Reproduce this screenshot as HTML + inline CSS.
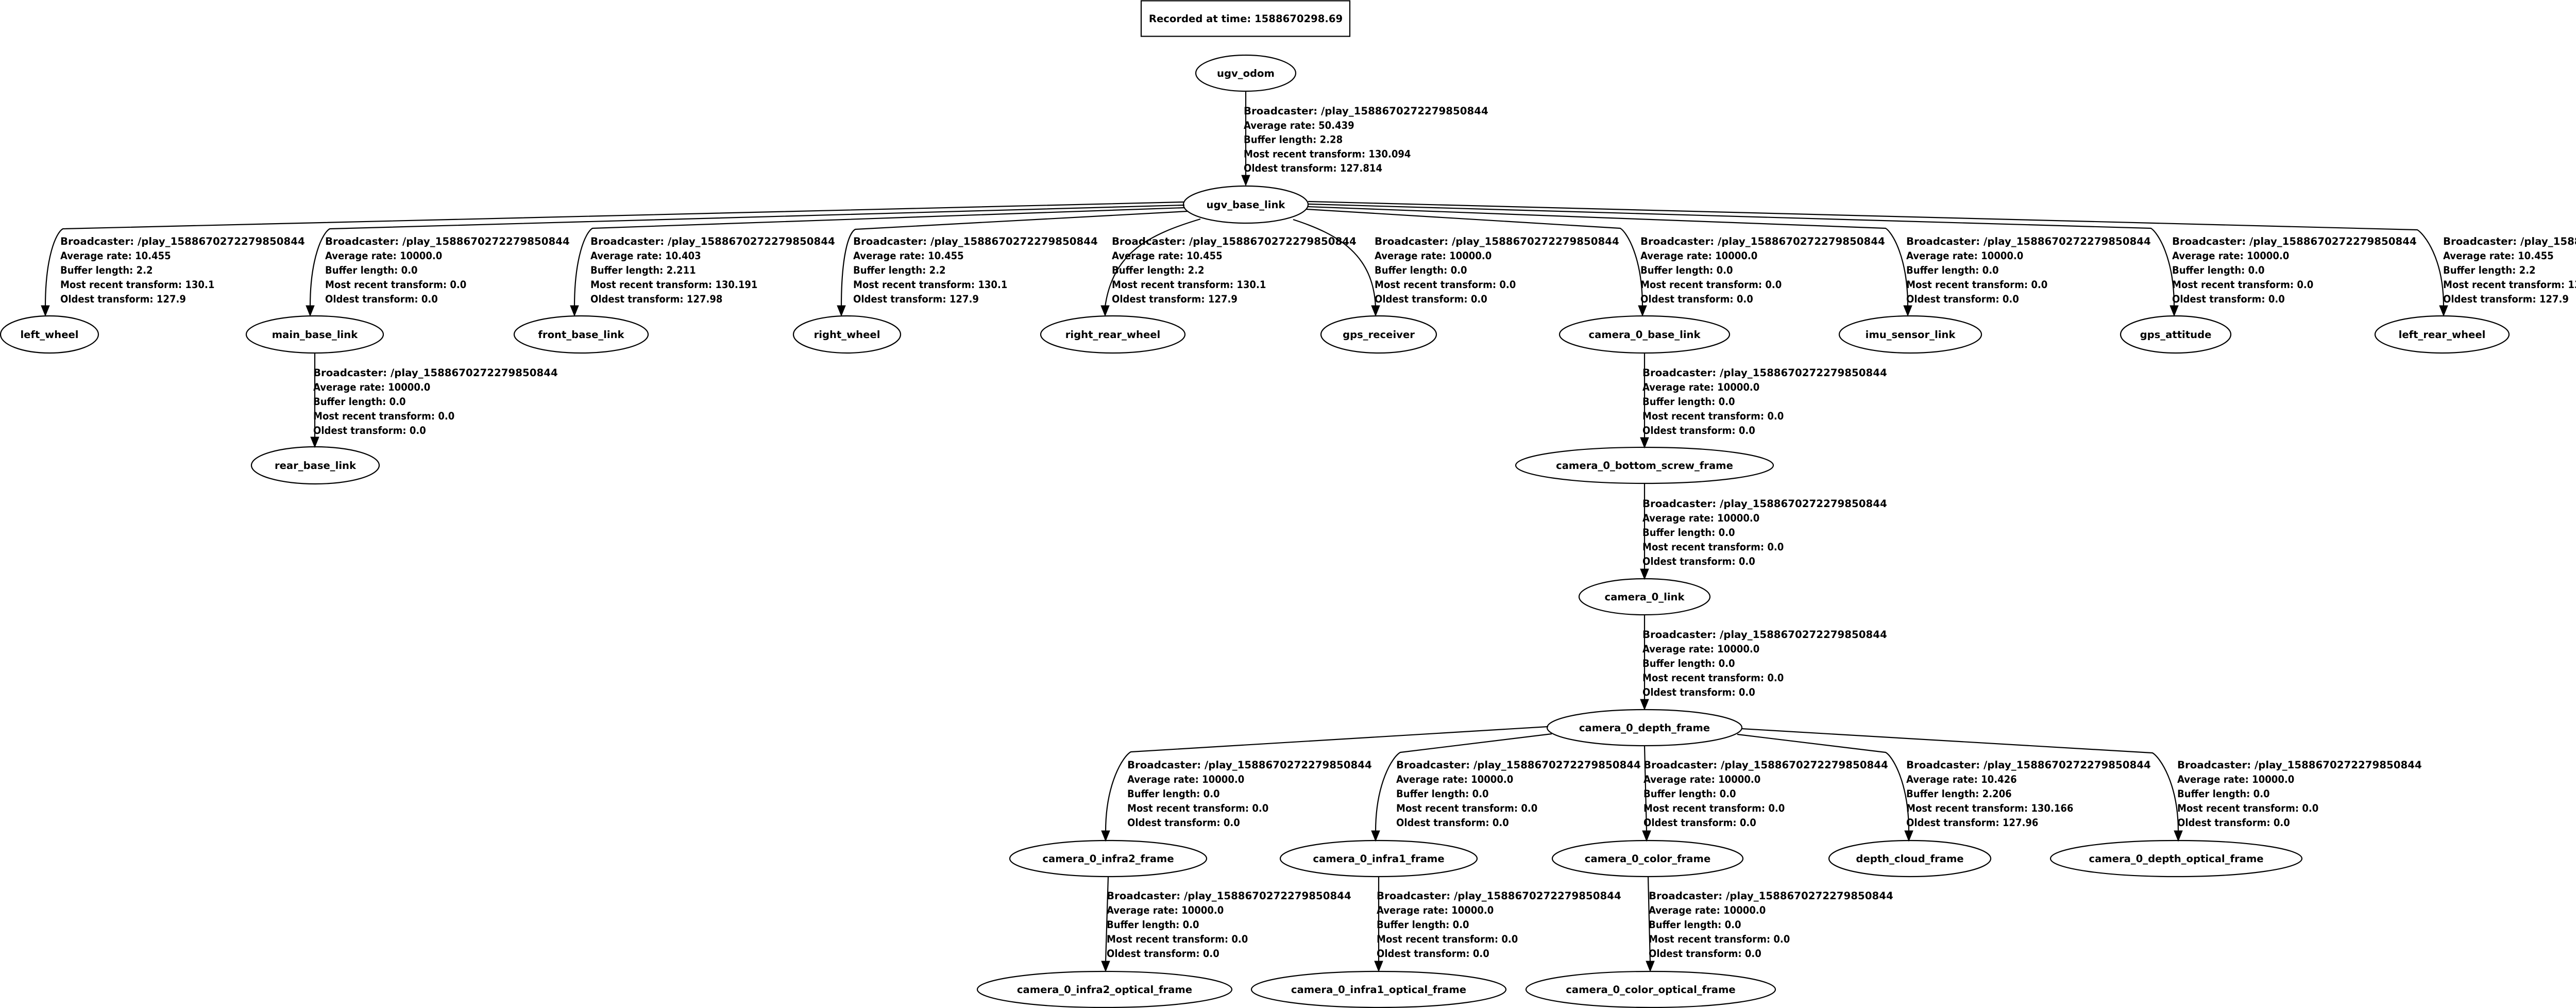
<!DOCTYPE html>
<html><head><meta charset="utf-8"><style>
html,body{margin:0;padding:0;background:#fff;}
svg{display:block;}
text{font-family:"DejaVu Sans","Liberation Sans",sans-serif;font-weight:bold;font-size:19.6px;fill:#000;}
.n{text-anchor:middle;}
</style></head><body>
<svg width="5220" height="1956" viewBox="0 0 5220 1956" xmlns="http://www.w3.org/2000/svg">
<defs>
</defs>
<rect x="0" y="0" width="5220" height="1956" fill="#fff"/>
<g fill="none" stroke="#000" stroke-width="2.2">
<rect x="2215" y="1.5" width="405" height="69"/>
<ellipse cx="2418" cy="142" rx="97" ry="35"/>
<ellipse cx="2418" cy="397" rx="121" ry="36"/>
<ellipse cx="96" cy="649" rx="95" ry="36"/>
<ellipse cx="611" cy="649" rx="133" ry="36"/>
<ellipse cx="1128" cy="649" rx="130" ry="36"/>
<ellipse cx="1644" cy="649" rx="104" ry="36"/>
<ellipse cx="2160" cy="649" rx="140" ry="36"/>
<ellipse cx="2676" cy="649" rx="112" ry="36"/>
<ellipse cx="3192" cy="649" rx="165" ry="36"/>
<ellipse cx="3708" cy="649" rx="138" ry="36"/>
<ellipse cx="4223" cy="649" rx="107" ry="36"/>
<ellipse cx="4740" cy="649" rx="130" ry="36"/>
<ellipse cx="612" cy="903" rx="124" ry="36"/>
<ellipse cx="3192" cy="903" rx="250" ry="35"/>
<ellipse cx="3192" cy="1158" rx="127" ry="35"/>
<ellipse cx="3192" cy="1412" rx="189" ry="35"/>
<ellipse cx="2151" cy="1666" rx="191" ry="35"/>
<ellipse cx="2676" cy="1666" rx="191" ry="35"/>
<ellipse cx="3198" cy="1666" rx="185" ry="35"/>
<ellipse cx="3707" cy="1666" rx="157" ry="35"/>
<ellipse cx="4224" cy="1666" rx="244" ry="35"/>
<ellipse cx="2144" cy="1920" rx="247" ry="35"/>
<ellipse cx="2676" cy="1920" rx="247" ry="35"/>
<ellipse cx="3204" cy="1920" rx="242" ry="35"/>
<path d="M2418 177 L2418 342"/>
<path d="M611 685 L611 850"/>
<path d="M3192 685 L3192 851"/>
<path d="M3192 938 L3192 1106"/>
<path d="M3192 1193 L3192 1359"/>
<path d="M3192 1447 L3196 1614"/>
<path d="M2151 1701 L2146 1867"/>
<path d="M2676 1701 L2676 1867"/>
<path d="M3199 1701 L3203 1867"/>
<path d="M2298 392 L122 444 C108 452 88 500 88 595"/>
<path d="M2299 398 L640 444 C626 452 602 500 602 595"/>
<path d="M2300 403 L1150 443 C1136 451 1115 500 1115 595"/>
<path d="M2305 410 L1660 445 C1646 453 1633 500 1633 595"/>
<path d="M2330 425 C2230 455 2160 490 2145 595"/>
<path d="M2510 426 C2600 455 2665 495 2670 595"/>
<path d="M2536 406 L3145 443 C3158 451 3188 500 3188 595"/>
<path d="M2538 401 L3660 443 C3673 451 3703 500 3703 595"/>
<path d="M2539 396 L4175 443 C4188 451 4220 500 4220 595"/>
<path d="M2539 391 L4692 446 C4705 454 4743 500 4743 595"/>
<path d="M3005 1410 L2195 1459 C2180 1467 2146 1520 2146 1614"/>
<path d="M3012 1424 L2718 1460 C2703 1468 2670 1520 2670 1614"/>
<path d="M3372 1425 L3660 1460 C3674 1468 3705 1520 3705 1614"/>
<path d="M3380 1414 L4178 1461 C4192 1469 4228 1520 4228 1614"/>
</g>
<g fill="#000" stroke="#000" stroke-width="1">
<polygon points="2410,340 2426,340 2418,360"/>
<polygon points="603,848 619,848 611,868"/>
<polygon points="3184,849 3200,849 3192,869"/>
<polygon points="3184,1104 3200,1104 3192,1124"/>
<polygon points="3184,1357 3200,1357 3192,1377"/>
<polygon points="3188,1612 3204,1612 3196,1632"/>
<polygon points="2138,1865 2154,1865 2146,1885"/>
<polygon points="2668,1865 2684,1865 2676,1885"/>
<polygon points="3195,1865 3211,1865 3203,1885"/>
<polygon points="80,593 96,593 88,613"/>
<polygon points="594,593 610,593 602,613"/>
<polygon points="1107,593 1123,593 1115,613"/>
<polygon points="1625,593 1641,593 1633,613"/>
<polygon points="2137,593 2153,593 2145,613"/>
<polygon points="2662,593 2678,593 2670,613"/>
<polygon points="3180,593 3196,593 3188,613"/>
<polygon points="3695,593 3711,593 3703,613"/>
<polygon points="4212,593 4228,593 4220,613"/>
<polygon points="4735,593 4751,593 4743,613"/>
<polygon points="2138,1612 2154,1612 2146,1632"/>
<polygon points="2662,1612 2678,1612 2670,1632"/>
<polygon points="3697,1612 3713,1612 3705,1632"/>
<polygon points="4220,1612 4236,1612 4228,1632"/>
</g>
<text class="n" x="2418" y="43">Recorded at time: 1588670298.69</text>
<text class="n" x="2418" y="149">ugv_odom</text>
<text class="n" x="2418" y="404">ugv_base_link</text>
<text class="n" x="96" y="656">left_wheel</text>
<text class="n" x="611" y="656">main_base_link</text>
<text class="n" x="1128" y="656">front_base_link</text>
<text class="n" x="1644" y="656">right_wheel</text>
<text class="n" x="2160" y="656">right_rear_wheel</text>
<text class="n" x="2676" y="656">gps_receiver</text>
<text class="n" x="3192" y="656">camera_0_base_link</text>
<text class="n" x="3708" y="656">imu_sensor_link</text>
<text class="n" x="4223" y="656">gps_attitude</text>
<text class="n" x="4740" y="656">left_rear_wheel</text>
<text class="n" x="612" y="910">rear_base_link</text>
<text class="n" x="3192" y="910">camera_0_bottom_screw_frame</text>
<text class="n" x="3192" y="1165">camera_0_link</text>
<text class="n" x="3192" y="1419">camera_0_depth_frame</text>
<text class="n" x="2151" y="1673">camera_0_infra2_frame</text>
<text class="n" x="2676" y="1673">camera_0_infra1_frame</text>
<text class="n" x="3198" y="1673">camera_0_color_frame</text>
<text class="n" x="3707" y="1673">depth_cloud_frame</text>
<text class="n" x="4224" y="1673">camera_0_depth_optical_frame</text>
<text class="n" x="2144" y="1927">camera_0_infra2_optical_frame</text>
<text class="n" x="2676" y="1927">camera_0_infra1_optical_frame</text>
<text class="n" x="3204" y="1927">camera_0_color_optical_frame</text>

<g transform="translate(2414,222) scale(0.92,1)"><text><tspan x="0" y="0" textLength="516" lengthAdjust="spacingAndGlyphs">Broadcaster: /play_1588670272279850844</tspan><tspan x="0" y="27.8">Average rate: 50.439</tspan><tspan x="0" y="55.6">Buffer length: 2.28</tspan><tspan x="0" y="83.4">Most recent transform: 130.094</tspan><tspan x="0" y="111.2">Oldest transform: 127.814</tspan></text></g>

<g transform="translate(117,475) scale(0.92,1)"><text><tspan x="0" y="0" textLength="516" lengthAdjust="spacingAndGlyphs">Broadcaster: /play_1588670272279850844</tspan><tspan x="0" y="28">Average rate: 10.455</tspan><tspan x="0" y="56">Buffer length: 2.2</tspan><tspan x="0" y="84">Most recent transform: 130.1</tspan><tspan x="0" y="112">Oldest transform: 127.9</tspan></text></g>
<g transform="translate(631,475) scale(0.92,1)"><text><tspan x="0" y="0" textLength="516" lengthAdjust="spacingAndGlyphs">Broadcaster: /play_1588670272279850844</tspan><tspan x="0" y="28">Average rate: 10000.0</tspan><tspan x="0" y="56">Buffer length: 0.0</tspan><tspan x="0" y="84">Most recent transform: 0.0</tspan><tspan x="0" y="112">Oldest transform: 0.0</tspan></text></g>
<g transform="translate(1146,475) scale(0.92,1)"><text><tspan x="0" y="0" textLength="516" lengthAdjust="spacingAndGlyphs">Broadcaster: /play_1588670272279850844</tspan><tspan x="0" y="28">Average rate: 10.403</tspan><tspan x="0" y="56">Buffer length: 2.211</tspan><tspan x="0" y="84">Most recent transform: 130.191</tspan><tspan x="0" y="112">Oldest transform: 127.98</tspan></text></g>
<g transform="translate(1656,475) scale(0.92,1)"><text><tspan x="0" y="0" textLength="516" lengthAdjust="spacingAndGlyphs">Broadcaster: /play_1588670272279850844</tspan><tspan x="0" y="28">Average rate: 10.455</tspan><tspan x="0" y="56">Buffer length: 2.2</tspan><tspan x="0" y="84">Most recent transform: 130.1</tspan><tspan x="0" y="112">Oldest transform: 127.9</tspan></text></g>
<g transform="translate(2158,475) scale(0.92,1)"><text><tspan x="0" y="0" textLength="516" lengthAdjust="spacingAndGlyphs">Broadcaster: /play_1588670272279850844</tspan><tspan x="0" y="28">Average rate: 10.455</tspan><tspan x="0" y="56">Buffer length: 2.2</tspan><tspan x="0" y="84">Most recent transform: 130.1</tspan><tspan x="0" y="112">Oldest transform: 127.9</tspan></text></g>
<g transform="translate(2668,475) scale(0.92,1)"><text><tspan x="0" y="0" textLength="516" lengthAdjust="spacingAndGlyphs">Broadcaster: /play_1588670272279850844</tspan><tspan x="0" y="28">Average rate: 10000.0</tspan><tspan x="0" y="56">Buffer length: 0.0</tspan><tspan x="0" y="84">Most recent transform: 0.0</tspan><tspan x="0" y="112">Oldest transform: 0.0</tspan></text></g>
<g transform="translate(3184,475) scale(0.92,1)"><text><tspan x="0" y="0" textLength="516" lengthAdjust="spacingAndGlyphs">Broadcaster: /play_1588670272279850844</tspan><tspan x="0" y="28">Average rate: 10000.0</tspan><tspan x="0" y="56">Buffer length: 0.0</tspan><tspan x="0" y="84">Most recent transform: 0.0</tspan><tspan x="0" y="112">Oldest transform: 0.0</tspan></text></g>
<g transform="translate(3700,475) scale(0.92,1)"><text><tspan x="0" y="0" textLength="516" lengthAdjust="spacingAndGlyphs">Broadcaster: /play_1588670272279850844</tspan><tspan x="0" y="28">Average rate: 10000.0</tspan><tspan x="0" y="56">Buffer length: 0.0</tspan><tspan x="0" y="84">Most recent transform: 0.0</tspan><tspan x="0" y="112">Oldest transform: 0.0</tspan></text></g>
<g transform="translate(4216,475) scale(0.92,1)"><text><tspan x="0" y="0" textLength="516" lengthAdjust="spacingAndGlyphs">Broadcaster: /play_1588670272279850844</tspan><tspan x="0" y="28">Average rate: 10000.0</tspan><tspan x="0" y="56">Buffer length: 0.0</tspan><tspan x="0" y="84">Most recent transform: 0.0</tspan><tspan x="0" y="112">Oldest transform: 0.0</tspan></text></g>
<g transform="translate(4742,475) scale(0.92,1)"><text><tspan x="0" y="0" textLength="516" lengthAdjust="spacingAndGlyphs">Broadcaster: /play_1588670272279850844</tspan><tspan x="0" y="28">Average rate: 10.455</tspan><tspan x="0" y="56">Buffer length: 2.2</tspan><tspan x="0" y="84">Most recent transform: 130.1</tspan><tspan x="0" y="112">Oldest transform: 127.9</tspan></text></g>

<g transform="translate(608,730) scale(0.92,1)"><text><tspan x="0" y="0" textLength="516" lengthAdjust="spacingAndGlyphs">Broadcaster: /play_1588670272279850844</tspan><tspan x="0" y="28">Average rate: 10000.0</tspan><tspan x="0" y="56">Buffer length: 0.0</tspan><tspan x="0" y="84">Most recent transform: 0.0</tspan><tspan x="0" y="112">Oldest transform: 0.0</tspan></text></g>
<g transform="translate(3188,730) scale(0.92,1)"><text><tspan x="0" y="0" textLength="516" lengthAdjust="spacingAndGlyphs">Broadcaster: /play_1588670272279850844</tspan><tspan x="0" y="28">Average rate: 10000.0</tspan><tspan x="0" y="56">Buffer length: 0.0</tspan><tspan x="0" y="84">Most recent transform: 0.0</tspan><tspan x="0" y="112">Oldest transform: 0.0</tspan></text></g>
<g transform="translate(3188,984) scale(0.92,1)"><text><tspan x="0" y="0" textLength="516" lengthAdjust="spacingAndGlyphs">Broadcaster: /play_1588670272279850844</tspan><tspan x="0" y="28">Average rate: 10000.0</tspan><tspan x="0" y="56">Buffer length: 0.0</tspan><tspan x="0" y="84">Most recent transform: 0.0</tspan><tspan x="0" y="112">Oldest transform: 0.0</tspan></text></g>
<g transform="translate(3188,1238) scale(0.92,1)"><text><tspan x="0" y="0" textLength="516" lengthAdjust="spacingAndGlyphs">Broadcaster: /play_1588670272279850844</tspan><tspan x="0" y="28">Average rate: 10000.0</tspan><tspan x="0" y="56">Buffer length: 0.0</tspan><tspan x="0" y="84">Most recent transform: 0.0</tspan><tspan x="0" y="112">Oldest transform: 0.0</tspan></text></g>

<g transform="translate(2188,1491) scale(0.92,1)"><text><tspan x="0" y="0" textLength="516" lengthAdjust="spacingAndGlyphs">Broadcaster: /play_1588670272279850844</tspan><tspan x="0" y="28">Average rate: 10000.0</tspan><tspan x="0" y="56">Buffer length: 0.0</tspan><tspan x="0" y="84">Most recent transform: 0.0</tspan><tspan x="0" y="112">Oldest transform: 0.0</tspan></text></g>
<g transform="translate(2710,1491) scale(0.92,1)"><text><tspan x="0" y="0" textLength="516" lengthAdjust="spacingAndGlyphs">Broadcaster: /play_1588670272279850844</tspan><tspan x="0" y="28">Average rate: 10000.0</tspan><tspan x="0" y="56">Buffer length: 0.0</tspan><tspan x="0" y="84">Most recent transform: 0.0</tspan><tspan x="0" y="112">Oldest transform: 0.0</tspan></text></g>
<g transform="translate(3190,1491) scale(0.92,1)"><text><tspan x="0" y="0" textLength="516" lengthAdjust="spacingAndGlyphs">Broadcaster: /play_1588670272279850844</tspan><tspan x="0" y="28">Average rate: 10000.0</tspan><tspan x="0" y="56">Buffer length: 0.0</tspan><tspan x="0" y="84">Most recent transform: 0.0</tspan><tspan x="0" y="112">Oldest transform: 0.0</tspan></text></g>
<g transform="translate(3700,1491) scale(0.92,1)"><text><tspan x="0" y="0" textLength="516" lengthAdjust="spacingAndGlyphs">Broadcaster: /play_1588670272279850844</tspan><tspan x="0" y="28">Average rate: 10.426</tspan><tspan x="0" y="56">Buffer length: 2.206</tspan><tspan x="0" y="84">Most recent transform: 130.166</tspan><tspan x="0" y="112">Oldest transform: 127.96</tspan></text></g>
<g transform="translate(4226,1491) scale(0.92,1)"><text><tspan x="0" y="0" textLength="516" lengthAdjust="spacingAndGlyphs">Broadcaster: /play_1588670272279850844</tspan><tspan x="0" y="28">Average rate: 10000.0</tspan><tspan x="0" y="56">Buffer length: 0.0</tspan><tspan x="0" y="84">Most recent transform: 0.0</tspan><tspan x="0" y="112">Oldest transform: 0.0</tspan></text></g>

<g transform="translate(2148,1745) scale(0.92,1)"><text><tspan x="0" y="0" textLength="516" lengthAdjust="spacingAndGlyphs">Broadcaster: /play_1588670272279850844</tspan><tspan x="0" y="28">Average rate: 10000.0</tspan><tspan x="0" y="56">Buffer length: 0.0</tspan><tspan x="0" y="84">Most recent transform: 0.0</tspan><tspan x="0" y="112">Oldest transform: 0.0</tspan></text></g>
<g transform="translate(2672,1745) scale(0.92,1)"><text><tspan x="0" y="0" textLength="516" lengthAdjust="spacingAndGlyphs">Broadcaster: /play_1588670272279850844</tspan><tspan x="0" y="28">Average rate: 10000.0</tspan><tspan x="0" y="56">Buffer length: 0.0</tspan><tspan x="0" y="84">Most recent transform: 0.0</tspan><tspan x="0" y="112">Oldest transform: 0.0</tspan></text></g>
<g transform="translate(3200,1745) scale(0.92,1)"><text><tspan x="0" y="0" textLength="516" lengthAdjust="spacingAndGlyphs">Broadcaster: /play_1588670272279850844</tspan><tspan x="0" y="28">Average rate: 10000.0</tspan><tspan x="0" y="56">Buffer length: 0.0</tspan><tspan x="0" y="84">Most recent transform: 0.0</tspan><tspan x="0" y="112">Oldest transform: 0.0</tspan></text></g>
</svg>
</body></html>
